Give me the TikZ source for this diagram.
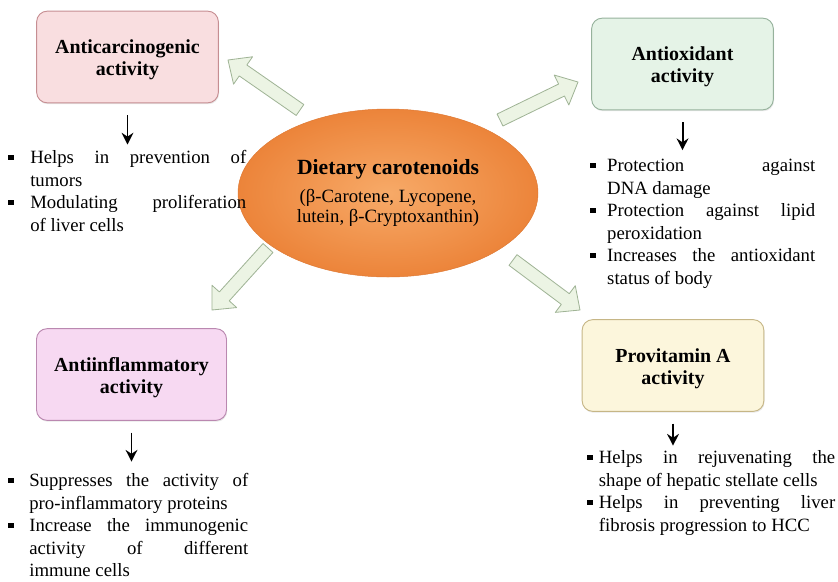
\documentclass[tikz,border=0pt]{standalone}
\usepackage{fontspec}
\setmainfont{Liberation Serif}
\usetikzlibrary{calc,arrows.meta,shapes.geometric,shadows}
\definecolor{carcFill}{RGB}{249,222,224}
\definecolor{carcLine}{RGB}{198,142,146}
\definecolor{oxiFill}{RGB}{229,243,231}
\definecolor{oxiLine}{RGB}{150,178,156}
\definecolor{inflFill}{RGB}{247,217,242}
\definecolor{inflLine}{RGB}{186,136,176}
\definecolor{vitFill}{RGB}{252,246,220}
\definecolor{vitLine}{RGB}{198,182,134}
\definecolor{arrFill}{RGB}{236,244,228}
\definecolor{arrLine}{RGB}{160,180,150}
\definecolor{dietIn}{RGB}{247,170,104}
\definecolor{dietOut}{RGB}{236,132,58}
\definecolor{dietLine}{RGB}{222,120,50}
\hyphenpenalty=10000
\tolerance=9999
\newlength\bhang
\def\bitem{\par\hangindent=\bhang\hangafter=1\noindent\makebox[\bhang][l]{\rule[3.2pt]{4.6pt}{4.6pt}}}
\def\blockarrow[#1](#2)(#3){\path ($(#3)!0.55cm!(#2)$) coordinate (#3h);
  \draw[#1] ($(#2)!0.2cm!90:(#3)$) -- ($(#3h)!0.2cm!90:(#3)$) -- ($(#3h)!0.5cm!90:(#3)$) -- (#3)
    -- ($(#3h)!0.5cm!-90:(#3)$) -- ($(#3h)!0.2cm!-90:(#3)$) -- ($(#2)!0.2cm!-90:(#3)$) -- cycle;}

\begin{document}
\begin{tikzpicture}[x=0.03cm,y=-0.03cm,
    actbox/.style={draw, rounded corners=9pt, line width=0.8pt, align=center, minimum width=5.45cm, minimum height=2.75cm,
      font=\fontsize{17}{19}\selectfont\bfseries, drop shadow={opacity=0.18,shadow xshift=0.6pt,shadow yshift=-1.2pt}},
    actlist/.style={anchor=north west, inner sep=0pt, align=justify, font=\fontsize{16}{19.2}\selectfont},
    downarr/.style={-{Stealth[length=10pt,width=10pt]}, line width=1.7pt, shorten <=10pt},
    bigarr/.style={draw=arrLine, fill=arrFill, line width=0.7pt, line join=round}]
		%%%%% START %%%%%
		\useasboundingbox (0,0) rectangle (838,581);
		
		\node[ellipse, minimum width=9cm, minimum height=5.04cm, inner sep=0pt, draw=dietLine, inner color=dietIn, outer color=dietOut,
		  align=center, font=\fontsize{16}{17}\selectfont] (diet) at (388,193)
		  {\textbf{\fontsize{18.5}{17}\selectfont Dietary carotenoids}\\[7pt] (β-Carotene, Lycopene,\\ lutein, β-Cryptoxanthin)};
		
		\node[actbox, fill=carcFill, draw=carcLine] (carc) at (127.5,57) {\rule{0pt}{17pt}Anticarcinogenic\\ activity};
		\node[actbox, fill=oxiFill, draw=oxiLine] (oxi) at (682.5,64) {\rule{0pt}{17pt}Antioxidant\\ activity};
		\node[actbox, fill=inflFill, draw=inflLine, minimum width=5.7cm] (infl) at (131.5,374.5) {\rule{0pt}{17pt}Antiinflammatory\\ activity};
		\node[actbox, fill=vitFill, draw=vitLine] (vit) at (673,365.5) {\rule{0pt}{17pt}Provitamin A\\ activity};
		
		\coordinate (ulTail) at (300,110);
		\coordinate (ulTip) at (228,60);
		\coordinate (urTail) at (500,120);
		\coordinate (urTip) at (578,82);
		\coordinate (llTail) at (268,248);
		\coordinate (llTip) at (212,310);
		\coordinate (lrTail) at (513,260);
		\coordinate (lrTip) at (580,310);
		\blockarrow[bigarr](ulTail)(ulTip);
		\blockarrow[bigarr](urTail)(urTip);
		\blockarrow[bigarr](llTail)(llTip);
		\blockarrow[bigarr](lrTail)(lrTip);
		
		\node[actlist, text width=7.14cm] (carcList) at (8,141) {\setlength\bhang{18.8pt}%
		  \bitem Helps in prevention of\linebreak tumors
		  \bitem Modulating proliferation\linebreak of liver cells\par};
		\node[actlist, text width=6.75cm] (oxiList) at (590,149) {\setlength\bhang{14.5pt}%
		  \bitem Protection against\linebreak DNA damage
		  \bitem Protection against lipid\linebreak peroxidation
		  \bitem Increases the antioxidant\linebreak status of body\par};
		\node[actlist, text width=7.2cm] (inflList) at (8,464) {\setlength\bhang{18pt}%
		  \bitem Suppresses the activity of\linebreak pro-inflammatory proteins
		  \bitem Increase the immunogenic\linebreak activity of different\linebreak immune cells\par};
		\node[actlist, text width=7.44cm] (vitList) at (587,441) {\setlength\bhang{10pt}%
		  \bitem Helps in rejuvenating the\linebreak shape of hepatic stellate cells
		  \bitem Helps in preventing liver\linebreak fibrosis progression to HCC\par};
		
		\draw[downarr, shorten >=-3pt] (carc.south) -- (carc.south |- carcList.north);
		\draw[downarr, shorten >=-1pt] (oxi.south) -- (oxi.south |- oxiList.north);
		\draw[downarr, shorten >=2pt] (infl.south) -- (infl.south |- inflList.north);
		\draw[downarr, shorten >=-4pt] (vit.south) -- (vit.south |- vitList.north);
		%%%%% END %%%%%
\end{tikzpicture}
\end{document}
